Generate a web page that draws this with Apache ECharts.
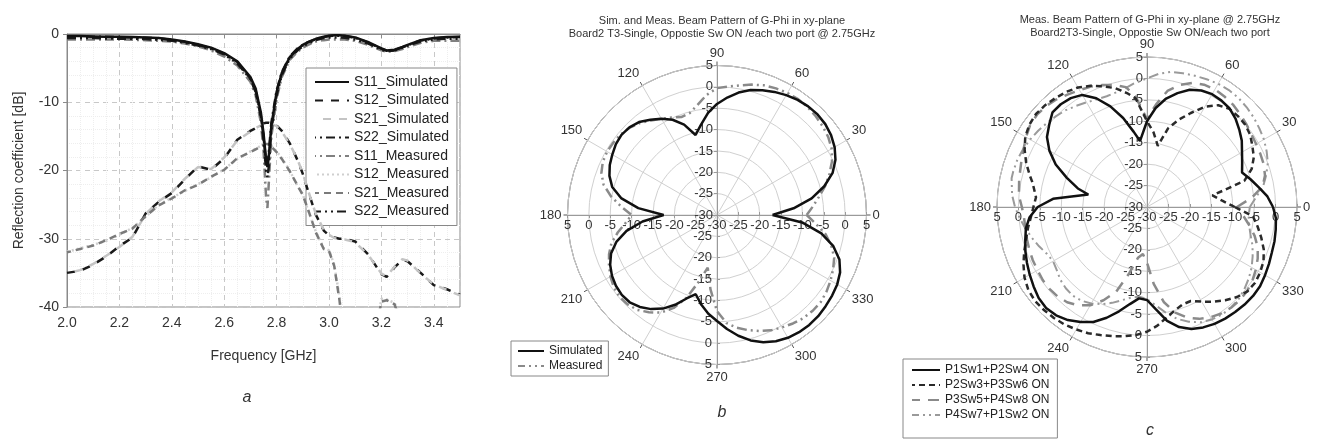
<!DOCTYPE html>
<html><head><meta charset="utf-8">
<script src="https://cdn.jsdelivr.net/npm/echarts@6/dist/echarts.min.js"></script>
<style>html,body{margin:0;padding:0;background:#fff}#c{width:1321px;height:443px}</style>
</head><body><div id="c"></div>
<script>
// ---------- Panel a: S-parameters vs frequency ----------
const freq = [2.0,2.05,2.1,2.15,2.2,2.25,2.3,2.35,2.4,2.45,2.5,2.55,2.6,2.65,2.7,
  2.72,2.74,2.75,2.76,2.765,2.77,2.78,
  2.8,2.82,2.85,2.88,2.9,2.92,2.95,2.98,
  3.0,3.02,3.04,3.06,
  3.1,3.15,3.2,3.22,3.25,3.28,3.3,3.35,3.4,3.45,3.5];
const s11Sim = [-0.3,-0.3,-0.35,-0.4,-0.4,-0.45,-0.5,-0.6,-0.8,-1.1,-1.5,-2.0,-2.8,-4.0,-6.3,
  -8.0,-11.5,-14.5,-18.5,-19.5,-18.0,-13.5,
  -8.5,-5.7,-3.4,-2.2,-1.6,-1.2,-0.7,-0.4,
  -0.25,-0.2,-0.2,-0.25,
  -0.5,-1.2,-2.1,-2.4,-2.3,-1.9,-1.6,-0.9,-0.6,-0.45,-0.4];
const s22Sim = [-0.35,-0.35,-0.4,-0.4,-0.45,-0.5,-0.55,-0.65,-0.85,-1.15,-1.6,-2.1,-2.9,-4.1,-6.5,
  -8.3,-12.0,-15.0,-18.8,-19.2,-17.5,-13.0,
  -8.3,-5.6,-3.3,-2.1,-1.6,-1.2,-0.75,-0.45,
  -0.3,-0.25,-0.25,-0.3,
  -0.55,-1.25,-2.15,-2.45,-2.35,-1.95,-1.65,-0.95,-0.65,-0.5,-0.45];
const s11Meas = [-0.8,-0.8,-0.8,-0.8,-0.8,-0.85,-0.9,-1.0,-1.1,-1.4,-1.8,-2.4,-3.3,-4.6,-7.0,
  -9.0,-13.0,-17.0,-24.0,-25.5,-22.0,-15.0,
  -9.5,-6.3,-3.8,-2.6,-2.0,-1.6,-1.1,-0.9,
  -0.8,-0.8,-0.8,-0.8,
  -1.0,-1.6,-2.4,-2.6,-2.5,-2.2,-1.9,-1.3,-1.0,-1.0,-1.0];
const s22Meas = [-0.6,-0.6,-0.6,-0.65,-0.7,-0.7,-0.75,-0.85,-1.0,-1.3,-1.7,-2.2,-3.0,-4.3,-6.6,
  -8.5,-12.0,-15.5,-20.0,-21.0,-19.5,-14.0,
  -9.0,-6.0,-3.6,-2.4,-1.8,-1.4,-0.9,-0.6,
  -0.5,-0.5,-0.5,-0.55,
  -0.8,-1.4,-2.3,-2.5,-2.4,-2.0,-1.7,-1.1,-0.8,-0.7,-0.7];
const s12Sim = [-35.0,-34.7,-33.8,-32.6,-31.1,-29.8,-26.3,-24.6,-23.3,-21.3,-19.4,-19.9,-18.2,-15.5,-14.2,
  -13.8,-13.3,-13.1,-13.0,-13.0,-13.0,-13.1,
  -13.4,-14.2,-16.0,-18.5,-20.5,-23.0,-26.5,-28.8,
  -29.5,-29.8,-30.0,-30.0,
  -30.4,-32.3,-35.2,-35.6,-34.2,-33.1,-33.3,-35.0,-36.8,-37.4,-38.2];
const s21Sim = [-35.1,-34.6,-33.7,-32.5,-31.2,-29.7,-26.4,-24.5,-23.2,-21.2,-19.5,-19.8,-18.1,-15.6,-14.3,
  -13.8,-13.4,-13.2,-13.1,-13.0,-13.1,-13.2,
  -13.5,-14.3,-16.1,-18.4,-20.4,-22.9,-26.4,-28.7,
  -29.4,-29.9,-30.1,-30.1,
  -30.5,-32.4,-35.1,-35.5,-34.1,-33.0,-33.2,-35.1,-36.7,-37.5,-38.3];
const s12Meas = [-31.9,-31.4,-30.9,-30.3,-29.4,-28.4,-26.8,-25.0,-24.0,-23.0,-22.0,-21.0,-19.8,-18.3,-17.2,
  -16.8,-16.4,-16.2,-16.0,-16.0,-16.1,-16.4,
  -17.2,-18.2,-20.0,-22.3,-23.5,-25.8,-29.0,-31.4,
  -31.7,-33.8,-38.5,-45,
  -50,-50,-38.8,-38.9,-39.4,-42,-50,-50,-50,-50,-50];
const s21Meas = [-32.0,-31.5,-31.0,-30.2,-29.3,-28.5,-26.7,-25.1,-24.1,-22.9,-22.1,-20.9,-19.9,-18.2,-17.3,
  -16.9,-16.5,-16.3,-16.1,-16.1,-16.2,-16.5,
  -17.3,-18.3,-20.1,-22.2,-23.6,-25.7,-29.1,-31.5,
  -31.8,-34.0,-39.0,-46,
  -50,-50,-39.2,-39.0,-39.6,-43,-50,-50,-50,-50,-50];

// ---------- Panel b: simulated / measured beam pattern ----------
const anglesB = [0,5,10,15,20,25,30,35,40,45,50,55,60,65,70,75,80,85,90,95,100,105,110,115,120,125,130,135,140,145,150,155,160,165,170,175,
  180,185,190,195,200,205,210,215,220,225,230,235,240,245,250,255,260,265,270,275,280,285,290,295,300,305,310,315,320,325,330,335,340,345,350,355,360];
const simB = [-17,-12,-7.5,-4.0,-1.2,0.6,1.8,2.6,3.1,3.3, 3.2,2.9,2.4,1.8,1.1,0.3,-0.9,-2.4,-4.0,-6.0,
  -8.5,-10.6,-7.5,-5.4,-4.0,-2.8,-1.6,-1.0,-0.8,-1.1, -1.7,-2.3,-3.2,-4.6,-7.2,-11.5,-17.5,-12.5,-8.5,-5.6,
  -3.6,-2.4,-1.6,-1.1,-0.9,-1.1,-1.9,-3.1,-4.7,-6.8, -9.2,-10.8,-8.7,-6.8,-5.2,-3.2,-1.3,0.4,1.7,2.6,
  3.2,3.5,3.6,3.5,3.2,2.9,2.5,1.8,0.5,-1.8, -5.2,-10.0,-17];
const measB = [-9,-7.5,-5.8,-3.8,-2.0,-0.3,1.0,1.8,2.3,2.7, 3.0,3.1,3.0,2.7,2.3,1.6,0.8,0.2,-0.3,-1.8,
  -3.8,-5.3,-5.6,-4.8,-4.0,-3.0,-1.9,-1.1,-0.6,-0.4, -0.3,-0.5,-1.2,-2.5,-4.8,-7.5,-10,-8.5,-6.4,-4.4,
  -3.1,-2.1,-1.2,-0.5,-0.2,-0.4,-1.0,-2.2,-3.6,-6.0, -9.5,-14.0,-17.5,-12.5,-7.5,-4.6,-3.2,-2.1,-1.1,-0.2,
  0.4,1.0,1.5,1.7,1.7,1.3,0.7,0.0,-0.8,-2.3, -4.2,-6.8,-9];

// ---------- Panel c: measured patterns for four switch states ----------
const anglesC = [0,5,10,15,20,25,30,35,40,45,50,55,60,65,70,75,80,85,90,96,100,105,110,115,120,125,130,135,140,145,150,155,160,165,168,175,
  180,185,190,195,200,205,210,215,220,225,230,235,240,245,250,255,260,265,270,275,280,285,290,295,300,305,310,315,320,325,330,335,340,345,350,355,360];
const p1 = [-0.6,-1.8,-3.5,-5.0,-6.4,-5.5,-4.4,-3.0,-1.9,-0.8,0.0,0.3,0.4,0.0,-0.9,-2.5,-4.3,-6.8,-10.0,
  -14.5,
  -12.2,-8.5,-5.0,-2.0,0.2,1.0,1.3,1.2,-0.2,-1.5,-3.7,-6.5,-10.1,-13.3,
  -16.0,-8.0,
  -4.5,-2.5,-1.3,-0.6,0.2,0.9,1.6,2.3,3.0,3.3,3.0,2.2,1.0,-0.4,-2.5,-4.8,-7.0,-8.6,-8.3,-6.0,-3.0,-1.0,0.3,1.0,1.5,1.8,2.0,2.2,2.3,2.2,1.8,1.4,1.0,0.8,0.5,0.2,-0.6];
const p2 = [-9.5,-12.5,-14.5,-6.5,-4.0,-2.5,-1.6,-0.6,-0.1,0.0,-0.1,-1.0,-3.0,-5.8,-8.3,-11.0,-15.5,-12.5,-10.0,
  -4.5,
  -3.0,-1.3,0.0,1.2,2.2,2.8,3.2,3.6,3.8,3.5,2.8,1.5,0.0,-1.7,
  -2.7,-4.0,
  -3.5,-2.8,-1.8,-0.8,0.5,1.8,3.0,3.8,4.1,4.0,3.8,3.5,3.0,2.5,1.8,1.2,0.6,0.0,-0.9,-2.2,-3.8,-5.0,-5.8,-5.8,-4.5,-3.0,-1.6,-0.3,0.6,0.8,0.5,0.0,-1.0,-2.4,-3.8,-5.2,-9.5];
const p3 = [-9.0,-5.5,-2.6,-1.5,-1.0,-0.8,-0.6,-0.3,0.2,0.7,1.2,1.5,1.7,1.5,0.8,-0.5,-2.5,-6.0,-9.5,
  -4.0,
  -1.6,-0.5,0.3,1.0,1.5,2.1,2.8,3.3,3.5,3.3,2.6,1.8,1.2,0.7,
  0.5,0.0,
  -0.8,-1.2,-1.2,-1.0,-0.8,-0.6,-0.5,-0.3,-0.3,-0.5,-1.0,-2.0,-3.5,-6.0,-9.0,-14.0,-18.0,-19.0,-17.0,-12.0,-7.5,-4.5,-2.5,-1.2,-0.3,0.3,0.6,0.7,0.5,0.0,-0.7,-1.5,-2.5,-4.0,-5.8,-7.5,-9.0];
const p4 = [-6.0,-4.5,-2.5,-1.2,0.0,0.8,1.5,2.0,2.5,2.9,3.2,3.3,3.2,2.9,2.6,2.3,2.0,1.2,0.0,
  -1.0,
  -1.8,-2.3,-2.5,-2.3,-1.8,-1.2,-0.5,0.0,0.5,1.0,1.5,1.9,2.2,2.3,
  2.3,1.6,
  0.8,-0.2,-1.2,-2.2,-3.2,-4.2,-4.7,-4.3,-3.6,-3.2,-3.0,-3.3,-4.0,-5.0,-6.2,-7.5,-8.5,-9.0,-8.5,-7.0,-5.0,-3.0,-1.5,-0.3,0.3,0.6,0.6,0.3,-0.3,-1.0,-1.8,-2.8,-3.8,-5.0,-5.8,-6.2,-6.0];

const legendA = ['S11_Simulated','S12_Simulated','S21_Simulated','S22_Simulated','S11_Measured','S12_Measured','S21_Measured','S22_Measured'];
const legendB = ['Simulated','Measured'];
const legendC = ['P1Sw1+P2Sw4 ON','P2Sw3+P3Sw6 ON','P3Sw5+P4Sw8 ON','P4Sw7+P1Sw2 ON'];

const FONT = 'Liberation Sans, Arial, sans-serif';
const TXT = '#333';

function xy(vals){ return freq.map((f,i)=>[f, vals[i]]); }
function pol(angles, vals){ return angles.map((a,i)=>[vals[i], a]); }

function polarSet(center, radius, base){
  const polar=[], angleAxis=[], radiusAxis=[];
  const starts=[0,90,180,270];
  const lab=[
    {verticalAlign:'top', align:'center', margin:-4, showMinLabel:true},
    {margin:4, showMinLabel:true},
    {margin:4, showMinLabel:false},
    {align:'right', margin:-5, showMinLabel:false}
  ];
  for(let k=0;k<4;k++){
    polar.push({center:center, radius:radius});
    const main = k===0;
    angleAxis.push({
      polarIndex: base+k, type:'value', min:0, max:360, interval:30,
      startAngle: starts[k], clockwise:false, show: main, z: 1,
      axisLine:{show:main, lineStyle:{color:'#555', width:1}},
      axisTick:{show:main, length:4, lineStyle:{color:'#555'}},
      axisLabel:{show:main, margin:6, fontSize:13, color:TXT, fontFamily:FONT,
        formatter:(v)=> v===360 ? '' : String(v)},
      splitLine:{show:main, lineStyle:{color:'#d0d0d0', width:1}}
    });
    radiusAxis.push({
      polarIndex: base+k, type:'value', min:-30, max:5, interval:5, z: 2,
      axisLine:{show:true, lineStyle:{color:'#9a9a9a', width:1}},
      axisTick:{show:true, length:3, lineStyle:{color:'#9a9a9a'}},
      axisLabel:Object.assign({fontSize:13, color:TXT, fontFamily:FONT, showMaxLabel:true}, lab[k]),
      splitLine:{show:main, lineStyle:{color:'#d0d0d0', width:1}}
    });
  }
  return {polar, angleAxis, radiusAxis};
}

const pb = polarSet([717,215],149.5,0);
const pc = polarSet([1147,207],150,4);

function line(name, data, color, width, type, extra){
  return Object.assign({
    name, type:'line', data, symbol:'none', showSymbol:false, smooth:false,
    lineStyle:{color, width, type}, itemStyle:{color}, z:5
  }, extra||{});
}

const series = [
  // panel a (drawing order)
  line('S12_Simulated', xy(s12Sim), '#1a1a1a', 2.5, [8,8], {lineStyle:{color:'#1a1a1a', width:2.5, type:[8,8], dashOffset:0}}),
  line('S21_Simulated', xy(s21Sim), '#c4c4c4', 2.5, [8,8], {lineStyle:{color:'#c4c4c4', width:2.5, type:[8,8], dashOffset:8}}),
  line('S12_Measured', xy(s12Meas), '#cfcfcf', 2.5, [2,3]),
  line('S21_Measured', xy(s21Meas), '#7a7a7a', 2.5, [7,5], {lineStyle:{color:'#7a7a7a', width:2.5, type:[7,5], dashOffset:3}}),
  line('S11_Measured', xy(s11Meas), '#808080', 2.5, [9,4,2,4]),
  line('S22_Measured', xy(s22Meas), '#1a1a1a', 2.5, [9,4,2,4,2,4]),
  line('S22_Simulated', xy(s22Sim), '#1a1a1a', 2.5, [9,4,2,4]),
  line('S11_Simulated', xy(s11Sim), '#111', 2.5, 'solid'),
  // panel b
  line('Measured', pol(anglesB, measB), '#8a8a8a', 2.5, [10,4,2,4,2,4], {coordinateSystem:'polar', polarIndex:0}),
  line('Simulated', pol(anglesB, simB), '#111', 2.5, 'solid', {coordinateSystem:'polar', polarIndex:0}),
  // panel c
  line('P4Sw7+P1Sw2 ON', pol(anglesC, p4), '#9a9a9a', 2, [10,4,2,4,2,4], {coordinateSystem:'polar', polarIndex:4}),
  line('P3Sw5+P4Sw8 ON', pol(anglesC, p3), '#8a8a8a', 2.5, [11,8], {coordinateSystem:'polar', polarIndex:4}),
  line('P2Sw3+P3Sw6 ON', pol(anglesC, p2), '#2a2a2a', 2.5, [6,4], {coordinateSystem:'polar', polarIndex:4}),
  line('P1Sw1+P2Sw4 ON', pol(anglesC, p1), '#111', 2.5, 'solid', {coordinateSystem:'polar', polarIndex:4})
];

const titleStyle = {fontSize:11, fontWeight:'normal', color:TXT, lineHeight:13, fontFamily:FONT};
const letterStyle = {fontSize:16, fontWeight:'normal', fontStyle:'italic', color:TXT, fontFamily:FONT};
const noSym = {opacity:0, borderWidth:0};

const option = {
  animation:false,
  backgroundColor:'#fff',
  textStyle:{fontFamily:FONT},
  title:[
    {text:'Sim. and Meas. Beam Pattern of G-Phi in xy-plane\nBoard2 T3-Single, Oppostie Sw ON /each two port @ 2.75GHz',
      left:717, top:9, textAlign:'center', textStyle:titleStyle},
    {text:'Meas. Beam Pattern of G-Phi in xy-plane @ 2.75GHz\nBoard2T3-Single, Oppostie Sw ON/each two port',
      left:1145, top:8, textAlign:'center', textStyle:titleStyle},
    {text:'a', left:242, top:385, textAlign:'center', textStyle:letterStyle},
    {text:'b', left:717, top:400, textAlign:'center', textStyle:letterStyle},
    {text:'c', left:1145, top:418, textAlign:'center', textStyle:letterStyle}
  ],
  grid:[{left:67, top:34, width:393, height:273, show:true, borderColor:'#8a8a8a', borderWidth:1, backgroundColor:'#fff'}],
  xAxis:[{
    type:'value', min:2, max:3.5, interval:0.2,
    name:'Frequency [GHz]', nameLocation:'middle', nameGap:42,
    nameTextStyle:{fontSize:14, color:TXT, fontFamily:FONT},
    axisLine:{show:true, lineStyle:{color:'#8a8a8a'}},
    axisTick:{show:true, length:4, lineStyle:{color:'#8a8a8a'}},
    axisLabel:{fontSize:14, color:TXT, margin:9, showMaxLabel:false, formatter:(v)=>v.toFixed(1)},
    splitLine:{show:true, lineStyle:{color:'#c8c8c8', type:[5,4]}},
    minorTick:{show:false, splitNumber:4},
    minorSplitLine:{show:true, lineStyle:{color:'#eeeeee', type:'dotted'}}
  }],
  yAxis:[{
    type:'value', min:-40, max:0, interval:10,
    name:'Reflection coefficient [dB]', nameLocation:'middle', nameGap:41,
    nameTextStyle:{fontSize:14, color:TXT, fontFamily:FONT},
    axisLine:{show:true, lineStyle:{color:'#8a8a8a'}},
    axisTick:{show:true, length:4, lineStyle:{color:'#8a8a8a'}},
    axisLabel:{fontSize:14, color:TXT, margin:8},
    splitLine:{show:true, lineStyle:{color:'#c8c8c8', type:[5,4]}},
    minorTick:{show:false, splitNumber:5},
    minorSplitLine:{show:true, lineStyle:{color:'#eeeeee', type:'dotted'}}
  }],
  polar: pb.polar.concat(pc.polar),
  angleAxis: pb.angleAxis.concat(pc.angleAxis),
  radiusAxis: pb.radiusAxis.concat(pc.radiusAxis),
  legend:[
    {data:legendA, orient:'vertical', left:306, top:68, itemWidth:34, itemHeight:12, itemGap:4.5,
      itemStyle:noSym,
      textStyle:{fontSize:14, color:'#222', fontFamily:FONT}, backgroundColor:'#fff',
      borderColor:'#888', borderWidth:1, padding:[7,8,7,8], selectedMode:false},
    {data:legendB, orient:'vertical', left:511, top:341, itemWidth:26, itemHeight:10, itemGap:3,
      itemStyle:noSym,
      textStyle:{fontSize:12, color:'#222', fontFamily:FONT}, backgroundColor:'#fff',
      borderColor:'#888', borderWidth:1, padding:[4,6,4,6], selectedMode:false},
    {data:legendC, orient:'vertical', left:903, top:359, itemWidth:28, itemHeight:10, itemGap:3,
      itemStyle:noSym,
      textStyle:{fontSize:12, color:'#222', fontFamily:FONT}, backgroundColor:'#fff',
      borderColor:'#888', borderWidth:1, padding:[5,8,17,8], selectedMode:false}
  ],
  series: series.map(s=>{ if(!s.coordinateSystem){ s.xAxisIndex=0; s.yAxisIndex=0; } return s; })
};

const chart = echarts.init(document.getElementById('c'), null, {renderer:'canvas'});
chart.setOption(option);
</script>
</body></html>
